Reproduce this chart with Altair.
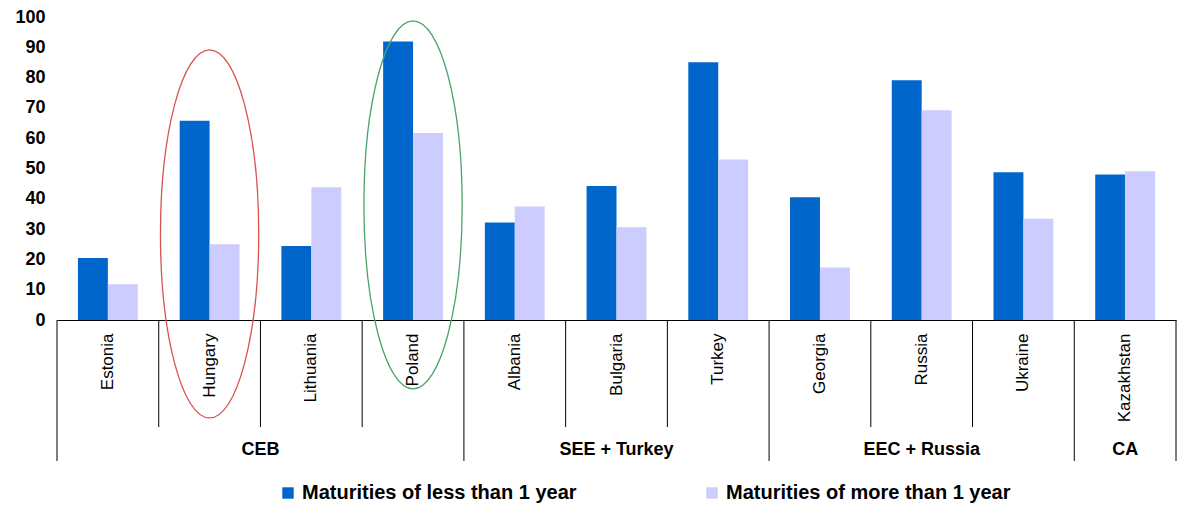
import altair as alt
import pandas as pd

countries = ["Estonia", "Hungary", "Lithuania", "Poland", "Albania", "Bulgaria",
             "Turkey", "Georgia", "Russia", "Ukraine", "Kazakhstan"]
short_term = [20.5, 65.8, 24.4, 91.9, 32.2, 44.2, 85.1, 40.5, 79.1, 48.8, 48.0]
long_term = [11.8, 25.0, 43.8, 61.7, 37.5, 30.6, 53.0, 17.3, 69.2, 33.4, 49.1]
series_names = ["Maturities of less than 1 year", "Maturities of more than 1 year"]
series_colors = ["#0066CC", "#CCCCFF"]
groups = ["CEB", "SEE + Turkey", "EEC + Russia", "CA"]
group_sizes = [4, 3, 3, 1]
y_ticks = [0, 10, 20, 30, 40, 50, 60, 70, 80, 90, 100]
highlight_countries = ["Hungary", "Poland"]
highlight_centres = [28.4, 38.0]
highlight_colors = ["#D9534F", "#4CA36B"]

FONT = "Liberation Sans"
W, H = 1119, 303
N = len(countries)

# ---- tables ----
rows = []
for c, a, b in zip(countries, short_term, long_term):
    rows.append({"country": c, "series": series_names[0], "value": a})
    rows.append({"country": c, "series": series_names[1], "value": b})
bars_df = pd.DataFrame(rows)

starts, ends = [], []
pos = 0
for s in group_sizes:
    starts.append(pos)
    pos += s
    ends.append(pos)
groups_df = pd.DataFrame({"group": groups, "start": starts, "end": ends})
groups_df["mid"] = (groups_df["start"] + groups_df["end"]) / 2

group_edges = sorted(set(starts + ends))
country_edges = [i for i in range(1, N) if i not in group_edges]
gedge_df = pd.DataFrame({"pos": group_edges})
cedge_df = pd.DataFrame({"pos": country_edges})

hl_df = pd.DataFrame({
    "country": highlight_countries,
    "pos": [countries.index(c) + 0.5 for c in highlight_countries],
    "centre": highlight_centres,
})

qx_scale = alt.Scale(domain=[0, N], nice=False, zero=False)
y_scale = alt.Scale(domain=[0, 100], nice=False)
y_axis = alt.Axis(title=None, values=y_ticks, tickCount=len(y_ticks), grid=False,
                  domain=False, ticks=False, labelFontSize=18, labelFont=FONT,
                  labelFontWeight="bold", labelColor="black", labelPadding=12,
                  labelOverlap=False, labelBound=False)

# ---- layers ----
bars = alt.Chart(bars_df).mark_bar(strokeWidth=0).encode(
    x=alt.X("country:N", sort=countries,
            scale=alt.Scale(paddingInner=0, paddingOuter=0),
            axis=alt.Axis(title=None, labelAngle=-90, labelFontSize=17, labelFont=FONT,
                          labelColor="black", labelPadding=13, ticks=False,
                          domain=True, domainColor="black", domainWidth=1,
                          labelLimit=300, labelOverlap=False)),
    xOffset=alt.XOffset("series:N", sort=series_names,
                        scale=alt.Scale(paddingInner=0, paddingOuter=0.7)),
    y=alt.Y("value:Q", scale=y_scale, axis=y_axis),
    color=alt.Color("series:N", sort=series_names,
                    scale=alt.Scale(domain=series_names, range=series_colors),
                    legend=alt.Legend(title=None, orient="none", legendX=221, legendY=466,
                                      direction="horizontal", symbolType="square",
                                      symbolSize=130, symbolStrokeWidth=0,
                                      labelFontSize=20, labelFont=FONT,
                                      labelFontWeight="bold", labelColor="black",
                                      labelLimit=0,
                                      columnPadding=125, labelOffset=4, padding=0)),
)

k = 0.5523
rx = 0.267
ellipse_path = (
    f"M0,-1 C{k*rx:.4f},-1 {rx},{-k} {rx},0 "
    f"C{rx},{k} {k*rx:.4f},1 0,1 "
    f"C{-k*rx:.4f},1 {-rx},{k} {-rx},0 "
    f"C{-rx},{-k} {-k*rx:.4f},-1 0,-1 Z"
)

ellipses = alt.Chart(hl_df).mark_point(
    shape=ellipse_path, filled=False, opacity=1, strokeWidth=1.3,
    size=(2 * 184) ** 2, dx=-8
).encode(
    x=alt.X("pos:Q", scale=qx_scale, axis=None),
    y=alt.Y("centre:Q", scale=y_scale, axis=y_axis),
    stroke=alt.Stroke("country:N",
                      scale=alt.Scale(domain=highlight_countries, range=highlight_colors),
                      legend=None),
)

country_rules = alt.Chart(cedge_df).mark_rule(color="black", strokeWidth=1).encode(
    x=alt.X("pos:Q", scale=qx_scale, axis=None),
    y=alt.value(H), y2=alt.value(H + 107),
)

group_rules = alt.Chart(gedge_df).mark_rule(color="black", strokeWidth=1).encode(
    x=alt.X("pos:Q", scale=qx_scale, axis=None),
    y=alt.value(H), y2=alt.value(H + 141),
)

group_labels = alt.Chart(groups_df).mark_text(
    font=FONT, fontSize=18, fontWeight="bold", color="black", baseline="middle"
).encode(
    x=alt.X("mid:Q", scale=qx_scale, axis=None),
    y=alt.value(433),
    text="group:N",
)

chart = alt.layer(bars, ellipses, country_rules, group_rules, group_labels).resolve_scale(
    x="independent"
).properties(
    width=W, height=H,
    autosize=alt.AutoSizeParams(type="none"),
    padding={"left": 57, "top": 17, "right": 8, "bottom": 187},
    background="white",
).configure_view(stroke=None)

chart.save("out.html", embed_options={"renderer": "svg", "actions": False})
